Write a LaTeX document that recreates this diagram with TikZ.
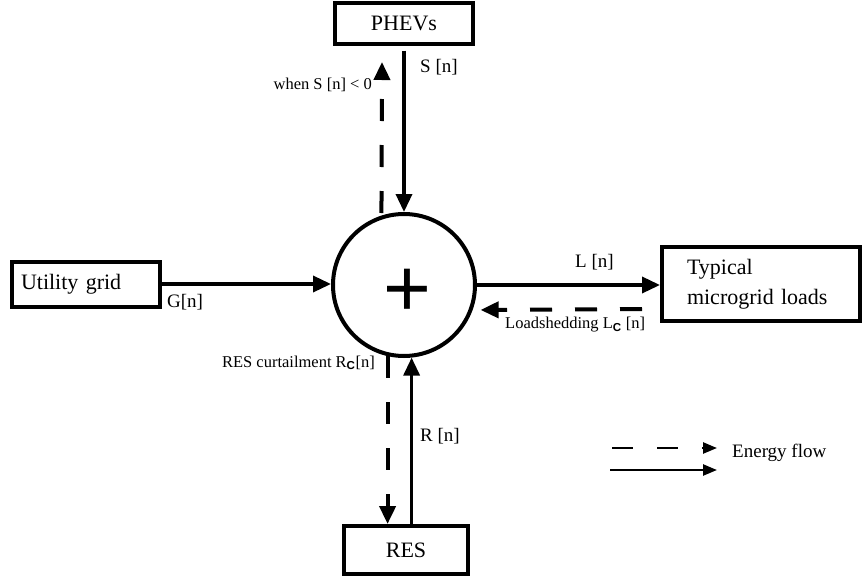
\documentclass[tikz,border=0pt]{standalone}
\usepackage{fontspec}
\setmainfont{Liberation Serif}
\setsansfont{Liberation Sans}
\usetikzlibrary{arrows.meta,calc}
\newcommand{\subC}{\textsubscript{\sffamily\bfseries C}}
\begin{document}
\begin{tikzpicture}[x=1pt,y=-1pt,
  box/.style={draw, line width=4pt, inner sep=0pt, font=\fontsize{22}{30}\selectfont},
  bigtip/.tip={Triangle[length=18pt,width=16pt]},
  smalltip/.tip={Triangle[length=14pt,width=11pt]},
  flow/.style={line width=3.5pt},
  dflow/.style={line width=4pt, dash pattern=on 22pt off 24pt},
  lbl/.style={font=\fontsize{19}{22}\selectfont, inner sep=0pt},
  slbl/.style={font=\fontsize{16.5}{20}\selectfont, inner sep=0pt},
]
\useasboundingbox (0,0) rectangle (865,581);
% boxes
\node[box, minimum width=138pt, minimum height=41pt] (phev) at (404,23) {PHEVs};
\node[box, minimum width=148pt, minimum height=45pt, anchor=center, text width=130pt, align=left] (grid) at (86,284) {Utility grid};
\node[box, minimum height=74pt, text width=148pt, inner xsep=25pt, align=left] (loads) at (761,284) {Typical\\microgrid loads};
\node[box, minimum width=124pt, minimum height=48pt] (res) at (406,550) {RES};
% summation node
\node[draw, circle, line width=4pt, minimum size=142pt, inner sep=0pt] (sum) at (404,285) {};
\node[font=\fontsize{82}{82}\selectfont\sffamily, inner sep=0pt] (plus) at (407,293) {+};
% PHEV flows
\draw[flow, -bigtip] ([yshift=-5pt]phev.south) -- (sum.north);
\coordinate (stip) at (382,62);
\draw[dflow, dash phase=26pt, bigtip-] (stip) -- (sum.108);
% grid flow
\draw[flow, -bigtip] (grid.east) -- (grid.east -| sum.west);
% load flows
\draw[flow, -bigtip] (sum.east) -- (sum.east -| loads.west);
\draw[dflow, dash pattern=on 22pt off 23pt, -bigtip] ($(loads.west)+(-18,25)$) -- ($(sum.-20)+(8,0)$);
% RES flows
\draw[dflow, -bigtip] (sum.257) -- (sum.257 |- res.north);
\draw[flow, -bigtip] (sum.276 |- res.north) -- (sum.276);
% labels
\node[lbl, anchor=west] (sl) at (420,67) {S [n]};
\node[slbl, anchor=east] (wl) at (372,85) {when S [n] < 0};
\node[lbl, anchor=west] (gl) at (167,302) {G[n]};
\node[lbl, anchor=west] (ll) at (575,262) {L [n]};
\node[slbl, anchor=west] (lsl) at (505,325) {Loadshedding L\subC\ [n]};
\node[slbl, anchor=east] (rcl) at (375,363) {RES curtailment R\subC[n]};
\node[lbl, anchor=west] (rl) at (420,436) {R [n]};
% legend
\node[lbl, anchor=west] (efl) at (732,453) {Energy flow};
\coordinate (ld1) at (612,448);
\coordinate (ld2) at (717,448);
\coordinate (ls1) at (610,470);
\coordinate (ls2) at (717,470);
\draw[line width=2.5pt, dash pattern=on 21pt off 24pt, -smalltip] (ld1) -- (ld2);
\draw[line width=2.5pt, -smalltip] (ls1) -- (ls2);
\end{tikzpicture}
\end{document}
